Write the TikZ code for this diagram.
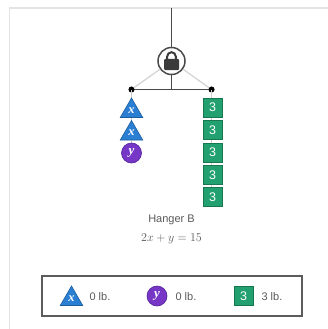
\documentclass[tikz,border=0pt]{standalone}
\usepackage{fontspec}
\setsansfont{Liberation Sans}
\newfontfamily\lserif{Liberation Serif}
\usetikzlibrary{shapes.geometric}
\definecolor{tblue}{HTML}{2B7FD3}
\definecolor{tblued}{HTML}{1C5E9E}
\definecolor{cpurp}{HTML}{7636C6}
\definecolor{cpurpd}{HTML}{52209A}
\definecolor{sgreen}{HTML}{22A070}
\definecolor{sgreend}{HTML}{17784F}
\definecolor{rope}{HTML}{4A4A4A}
\definecolor{txtgray}{HTML}{5A5A5A}
\definecolor{frame}{HTML}{E4E4E4}
\tikzset{
  xtri/.style={regular polygon, regular polygon sides=3, fill=tblue, draw=tblued, line width=0.6pt,
    minimum size=26pt, inner sep=0pt},
  xlab/.style={text=white, font=\lserif\bfseries\itshape\fontsize{12.5}{12.5}\selectfont},
  ycirc/.style={circle, fill=cpurp, draw=cpurpd, line width=0.6pt, minimum size=20pt, inner sep=0pt,
    text=white, font=\lserif\bfseries\itshape\fontsize{13}{13}\selectfont},
  sq/.style={rectangle, fill=sgreen, draw=sgreend, line width=0.6pt, minimum size=19pt, inner sep=0pt,
    text=white, font=\sffamily\fontsize{12.5}{12.5}\selectfont},
  lbl/.style={text=txtgray, font=\sffamily\fontsize{11}{11}\selectfont},
  dot/.style={circle, fill=black, inner sep=0pt, minimum size=6pt},
  string/.style={draw=gray!40, line width=0.6pt},
  ropeline/.style={draw=rope, line width=1.5pt},
  diag/.style={draw=gray!35, line width=1.2pt}
}
\begin{document}
\begin{tikzpicture}[x=1pt,y=-1pt]
\useasboundingbox (0,0) rectangle (328,329);
\fill[white] (0,0) rectangle (328,329);
% frame
\draw[frame, line width=1.2pt] (9.5,329) -- (9.5,8) -- (328,8);
% hanger
\coordinate (top) at (171.5,8);
\node[dot] (dl) at (131.5,89.5) {};
\node[dot] (dr) at (211.5,89.5) {};
\coordinate (bm) at (171.5,89.5);
\draw[diag] (dl.center) -- (171.5,61);
\draw[diag] (dr.center) -- (171.5,61);
\node[circle, draw=rope, line width=1.5pt, fill=white, minimum size=27pt, inner sep=0pt] (hub) at (171.5,61) {};
\draw[ropeline] (top) -- (hub.north);
\draw[ropeline] (hub.south) -- (bm);
\draw[ropeline] (dl.center) -- (dr.center);
\fill[black] (dl.center) circle[radius=2.8pt];
\fill[black] (dr.center) circle[radius=2.8pt];
% lock icon
\fill[rope!80!black, rounded corners=1pt] (164,59) rectangle (179,70);
\draw[rope!80!black, line width=2pt] (167.2,59.5) -- (167.2,56.5) arc[start angle=180, end angle=360, radius=4.3] -- (175.8,59.5);
% strings
\draw[string] (dl.center) -- (131.5,150);
\draw[string] (dr.center) -- (211.5,196);
% left stack
\node[xtri] (x1) at (131.5,111) {};
\node[xlab] (x1t) at (131.5,110.5) {x};
\node[xtri] (x2) at (131.5,133.5) {};
\node[xlab] (x2t) at (131.5,133) {x};
\node[ycirc] (y1) at (131.5,153) {y};
% right stack
\node[sq] (s1) at (212.5,107.5) {3};
\node[sq] (s2) at (212.5,130) {3};
\node[sq] (s3) at (212.5,152.5) {3};
\node[sq] (s4) at (212.5,175) {3};
\node[sq] (s5) at (212.5,197) {3};
% labels
\node[lbl] (hb) at (171.5,220) {Hanger B};
\node[text=txtgray, font=\fontsize{11.5}{11.5}\selectfont] (eq) at (171.5,239) {$2x+y=15$};
% legend
\node[draw=rope!90, line width=1.5pt, minimum width=260pt, minimum height=40pt, inner sep=0pt] (leg) at (172,296) {};
\node[xtri] (lx) at (71.5,299) {};
\node[xlab] (lxt) at (71.5,298.5) {x};
\node[lbl, anchor=west] (lxl) at (86,297) {0 lb.};
\node[ycirc] (ly) at (157,296) {y};
\node[lbl, anchor=west] (lyl) at (172,297) {0 lb.};
\node[sq] (ls) at (243.5,296) {3};
\node[lbl, anchor=west] (lsl) at (258,297) {3 lb.};
\end{tikzpicture}
\end{document}
